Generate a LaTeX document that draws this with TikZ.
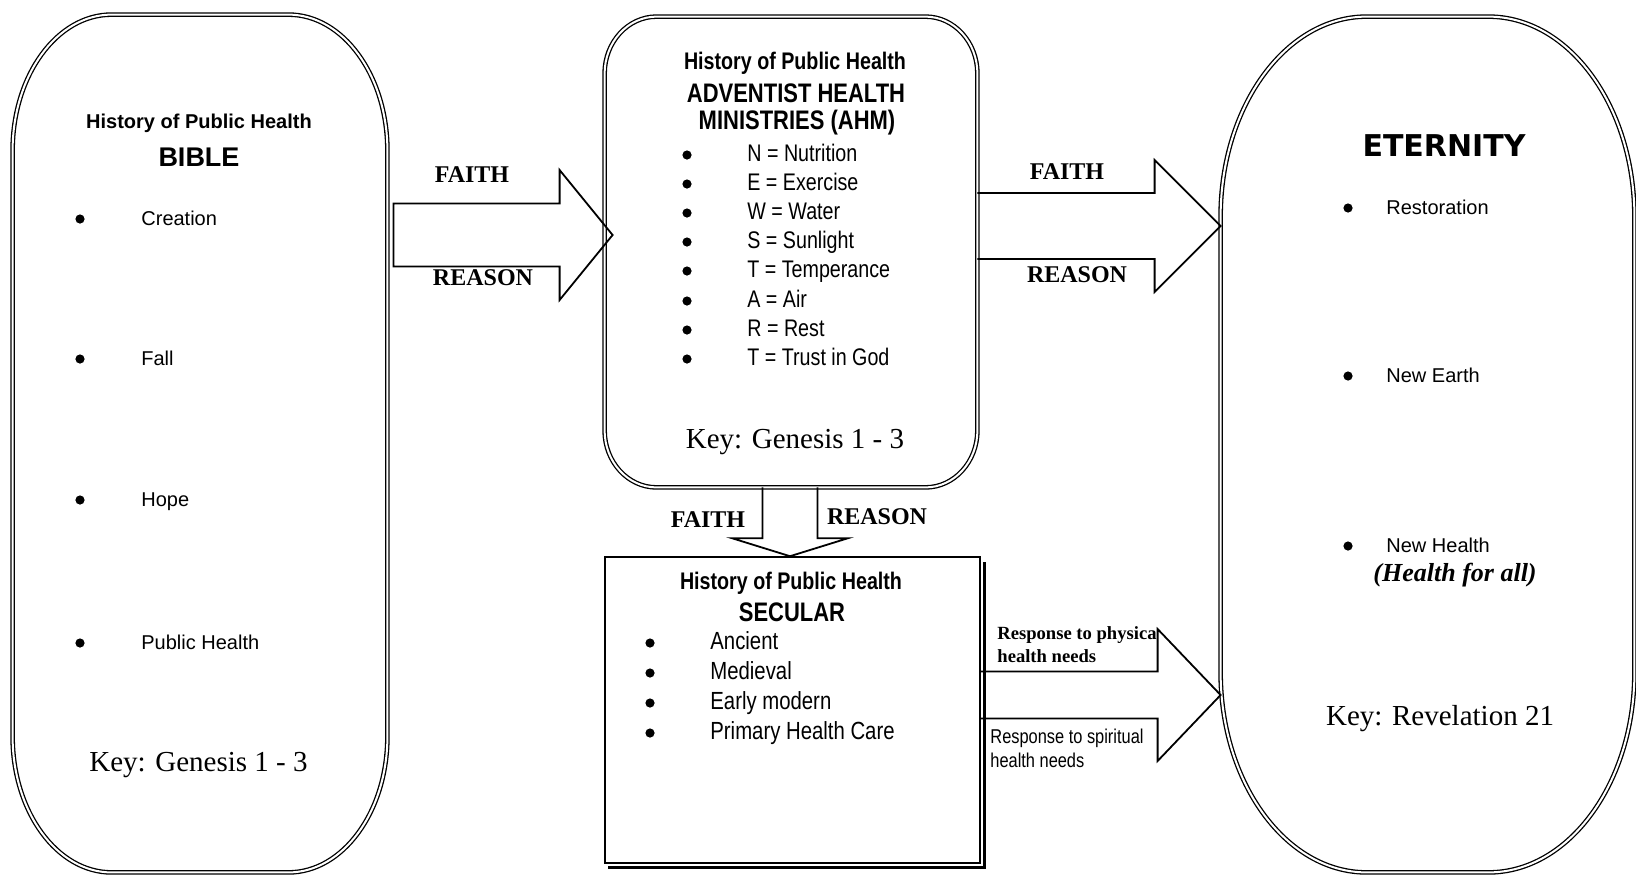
\documentclass[tikz,border=0pt]{standalone}
\usepackage{fontspec}
\setmainfont{Liberation Serif}
\setsansfont{Liberation Sans}
\newfontfamily\narrowsf[FakeStretch=0.82]{Liberation Sans}
\newfontfamily\heavysf{DejaVu Sans}
\usetikzlibrary{calc}

\tikzset{
  dblframe/.style={draw, line width=0.65pt, double, double distance=1pt},
  blockline/.style={draw, line width=0.9pt, line join=miter},
  boxarea/.style={inner sep=0pt},
  bul/.style={circle, fill, inner sep=0pt, minimum size=4.6pt},
  item/.style={anchor=west, inner sep=0pt, text height=1.5ex, text depth=0pt},
  lbl/.style={font=\rmfamily\bfseries\fontsize{12}{14}\selectfont},
  keytxt/.style={font=\rmfamily\fontsize{14.5}{17}\selectfont},
}

% frame with elliptic corners round a node
\newcommand{\ovalframe}[3]{%
  \draw[dblframe] ([yshift=-#3]#1.north west) -- ([yshift=#3]#1.south west)
    arc[start angle=180, end angle=270, x radius=#2, y radius=#3]
    -- ([xshift=-#2]#1.south east)
    arc[start angle=270, end angle=360, x radius=#2, y radius=#3]
    -- ([yshift=-#3]#1.north east)
    arc[start angle=0, end angle=90, x radius=#2, y radius=#3]
    -- ([xshift=#2]#1.north west)
    arc[start angle=90, end angle=180, x radius=#2, y radius=#3] -- cycle;}

% block arrow to the right: [close] from, to, level, shaft half, head half, head length
\newcommand{\blockR}[7][]{%
  \draw[blockline] let \p1=(#2), \p2=(#3), \p3=(#4) in
    (\x1,\y3+#5) -- (\x2-#7,\y3+#5) -- (\x2-#7,\y3+#6) -- (\x2,\y3)
    -- (\x2-#7,\y3-#6) -- (\x2-#7,\y3-#5) -- (\x1,\y3-#5) #1;}

\begin{document}
\begin{tikzpicture}[x=0.5pt, y=0.5pt]
\useasboundingbox (0,0) rectangle (1636,-874);

%boxes
\node[boxarea, minimum width=187pt, minimum height=428.5pt] (bible) at (200,-443.5) {};
\node[boxarea, minimum width=186pt, minimum height=235pt] (ahm) at (791,-252) {};
\node[boxarea, minimum width=206.5pt, minimum height=427.5pt] (eternity) at (1427.5,-444.5) {};
\node[boxarea, draw, line width=0.8pt, minimum width=187.5pt, minimum height=153pt] (secular) at (792.5,-710) {};
\ovalframe{bible}{49.5pt}{68pt}
\ovalframe{ahm}{26pt}{28.5pt}
\ovalframe{eternity}{73pt}{100pt}
\draw[line width=1.2pt] ([shift={(1.8pt,-3pt)}]secular.north east)
  -- ([shift={(1.8pt,-1.8pt)}]secular.south east) -- ([shift={(2pt,-1.8pt)}]secular.south west);

%arrows
\coordinate (lv1) at (0,-235);
\coordinate (lv2) at (0,-226);
\coordinate (lv4) at (0,-695);
\coordinate (lv3) at (790,0);
\blockR[-- cycle]{[xshift=3pt]bible.east}{[xshift=4pt]ahm.west}{lv1}{15.75pt}{32.5pt}{26.5pt}
\blockR{ahm.east}{eternity.west}{lv2}{16.5pt}{33pt}{33pt}
\blockR{secular.east}{eternity.west}{lv4}{11.75pt}{33pt}{31.5pt}
\draw[blockline] let \p1=(ahm.south), \p2=(secular.north), \p3=(lv3) in
  (\x3-13.75pt,\y1) -- (\x3-13.75pt,\y2+9pt) -- (\x3-29pt,\y2+9pt) -- (\x3,\y2)
  -- (\x3+29pt,\y2+9pt) -- (\x3+13.75pt,\y2+9pt) -- (\x3+13.75pt,\y1);

\node[lbl] (f1) at (472,-175) {FAITH};
\node[lbl] (r1) at (483,-278) {REASON};
\node[lbl] (f2) at (1067,-172) {FAITH};
\node[lbl] (r2) at (1077,-275) {REASON};
\node[lbl] (f3) at (708,-520) {FAITH};
\node[lbl] (r3) at (877,-517) {REASON};
\node[anchor=west, align=left, inner sep=0pt,
  font=\rmfamily\bfseries\fontsize{9.3}{11.5}\selectfont] (resp1) at (997,-645)
  {Response to physica\\health needs};
\node[anchor=west, align=left, inner sep=0pt,
  font=\narrowsf\fontsize{10}{12}\selectfont] (resp2) at (990,-748)
  {Response to spiritual\\health needs};

%bible
\node[font=\sffamily\bfseries\fontsize{10}{12}\selectfont] (bibt) at (199,-123) {History of Public Health};
\node[font=\sffamily\bfseries\fontsize{13.5}{16}\selectfont] (bibn) at (199,-157) {BIBLE};
\foreach \y/\t [count=\i] in {219/Creation, 359/Fall, 500/Hope, 643/Public Health}{
  \node[bul] (bb\i) at (80,-\y) {};
  \node[item, font=\sffamily\fontsize{10}{12}\selectfont] (bi\i) at (141,-\y) {\t};}
\node[keytxt] (bibk) at (198.5,-765) {Key: Genesis 1 - 3};

%ahm
\node[font=\narrowsf\bfseries\fontsize{12}{14}\selectfont] (ahmt) at (795,-63) {History of Public Health};
\node[font=\narrowsf\bfseries\fontsize{13.4}{16}\selectfont] (ahmn1) at (796,-93) {ADVENTIST HEALTH};
\node[font=\narrowsf\bfseries\fontsize{13.4}{16}\selectfont] (ahmn2) at (797,-123) {MINISTRIES (AHM)};
\foreach \y/\t [count=\i] in {155/N = Nutrition, 184/E = Exercise, 213/W = Water, 242/S = Sunlight,
    271/T = Temperance, 301/A = Air, 330/R = Rest, 359/T = Trust in God}{
  \node[bul] (ab\i) at (687,-\y) {};
  \node[item, font=\narrowsf\fontsize{12}{14}\selectfont] (ai\i) at (747,-\y) {\t};}
\node[keytxt] (ahmk) at (795,-442) {Key: Genesis 1 - 3};

%secular
\node[font=\narrowsf\bfseries\fontsize{12}{14}\selectfont] (sect) at (791,-583) {History of Public Health};
\node[font=\narrowsf\bfseries\fontsize{13.4}{16}\selectfont] (secn) at (792,-612) {SECULAR};
\foreach \y/\t [count=\i] in {643/Ancient, 673/Medieval, 703/Early modern, 733/Primary Health Care}{
  \node[bul] (sb\i) at (650,-\y) {};
  \node[item, font=\narrowsf\fontsize{12.4}{14}\selectfont] (si\i) at (710,-\y) {\t};}

%eternity
\node[font=\heavysf\bfseries\fontsize{15}{18}\selectfont] (etn) at (1444,-146) {ETERNITY};
\foreach \y/\t [count=\i] in {208/Restoration, 376/New Earth, 546/New Health}{
  \node[bul] (eb\i) at (1348,-\y) {};
  \node[item, font=\sffamily\fontsize{10}{12}\selectfont] (ei\i) at (1386,-\y) {\t};}
\node[font=\rmfamily\bfseries\itshape\fontsize{13}{15}\selectfont] (eall) at (1455,-575) {(Health for all)};
\node[keytxt] (etk) at (1440,-719) {Key: Revelation 21};
\end{tikzpicture}
\end{document}
